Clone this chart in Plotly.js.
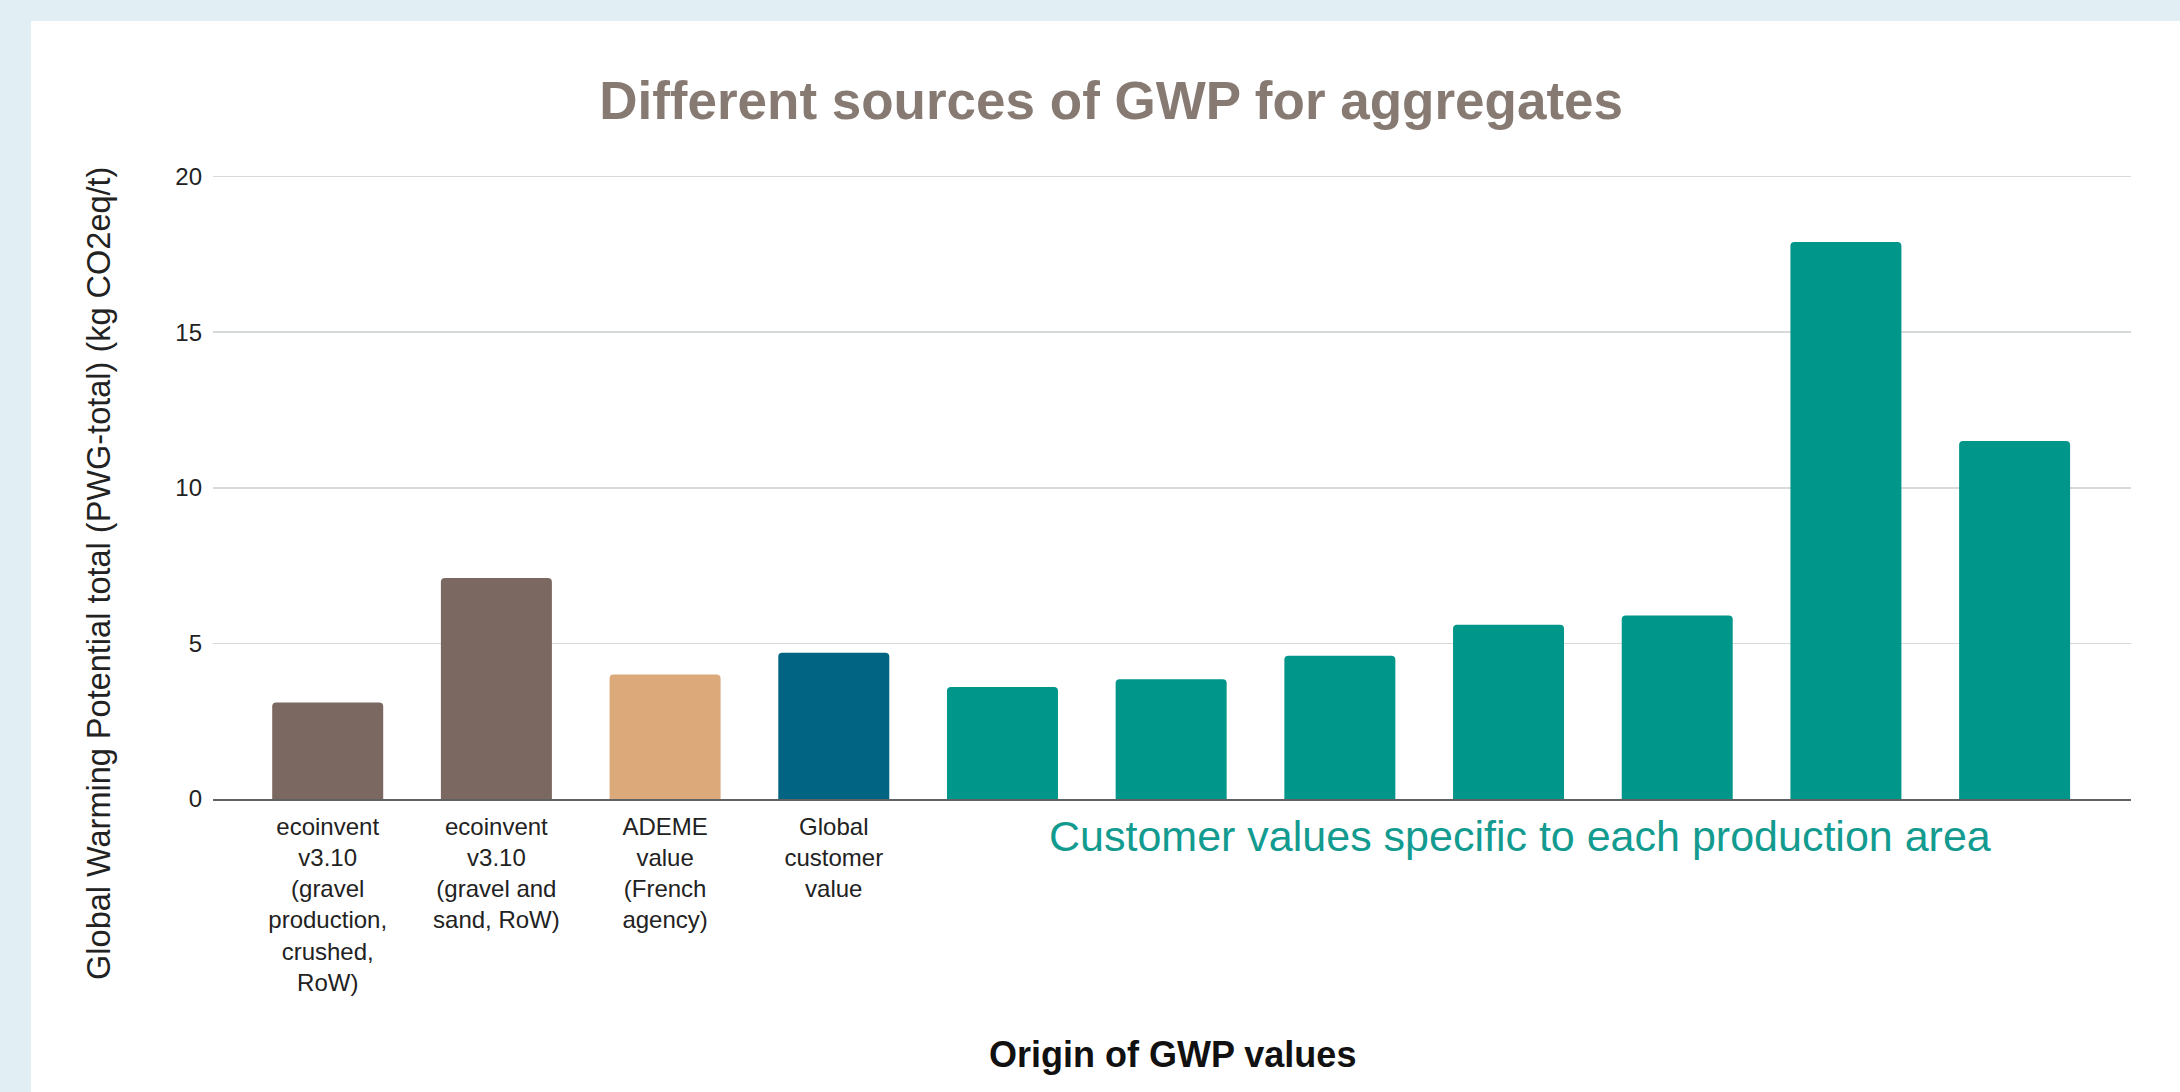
<!DOCTYPE html>
<html>
<head>
<meta charset="utf-8">
<script src="https://cdn.plot.ly/plotly-3.0.1.min.js"></script>
<style>
  html, body { margin: 0; padding: 0; background: #e1eef4; width: 2180px; height: 1092px; overflow: hidden; }
  #chart { position: absolute; left: 31px; top: 21px; width: 2149px; height: 1071px; background: #ffffff; }
</style>
</head>
<body>
<div id="chart"></div>
<script>
// ---- data ----
const categoryLabels = [
  'ecoinvent<br>v3.10<br>(gravel<br>production,<br>crushed,<br>RoW)',
  'ecoinvent<br>v3.10<br>(gravel and<br>sand, RoW)',
  'ADEME<br>value<br>(French<br>agency)',
  'Global<br>customer<br>value',
  '', '', '', '', '', '', ''
];
const gwpValues = [3.1, 7.1, 4.0, 4.7, 3.6, 3.85, 4.6, 5.6, 5.9, 17.9, 11.5];
const sourceGroups = ['ecoinvent', 'ecoinvent', 'ADEME', 'Global customer',
  'Customer area', 'Customer area', 'Customer area', 'Customer area',
  'Customer area', 'Customer area', 'Customer area'];
const groupColors = {
  'ecoinvent': '#7b6961',
  'ADEME': '#dca97b',
  'Global customer': '#006482',
  'Customer area': '#00978a'
};
const yTickValues = [0, 5, 10, 15, 20];
const chartTitle = 'Different sources of GWP for aggregates';
const xTitle = 'Origin of GWP values';
const yTitle = 'Global Warming Potential total (PWG-total) (kg CO2eq/t)';
const areaNote = 'Customer values specific to each production area';

const positions = categoryLabels.map((_, i) => i);
const FONT = '"Liberation Sans", Arial, Helvetica, sans-serif';

const trace = {
  type: 'bar',
  x: positions,
  y: gwpValues,
  marker: { color: sourceGroups.map(g => groupColors[g]), cornerradius: 4, line: { width: 0 } },
  hoverinfo: 'y'
};

const layout = {
  width: 2149,
  height: 1071,
  paper_bgcolor: '#ffffff',
  plot_bgcolor: '#ffffff',
  margin: { l: 182, r: 49, t: 154, b: 293, pad: 0 },
  showlegend: false,
  bargap: 0.342,
  font: { family: FONT, color: '#222222' },
  title: {
    text: '<b>' + chartTitle + '</b>',
    font: { family: FONT, size: 53, color: '#877a72' },
    xref: 'container', x: 0.5026, xanchor: 'center',
    yref: 'container', y: 0.926, yanchor: 'middle'
  },
  xaxis: {
    type: 'linear',
    range: [-0.68, 10.69],
    tickmode: 'array',
    tickvals: positions,
    ticktext: categoryLabels,
    tickfont: { family: FONT, size: 24, color: '#222222' },
    ticks: '',
    showgrid: false,
    zeroline: false,
    showline: true,
    linecolor: '#5f6263',
    linewidth: 2,
    ticklabelstandoff: 5,
    fixedrange: true
  },
  yaxis: {
    range: [0, 20.05],
    tickmode: 'array',
    tickvals: yTickValues,
    tickfont: { family: FONT, size: 24, color: '#222222' },
    ticks: '',
    showgrid: true,
    gridcolor: '#d7dadb',
    gridwidth: 1.5,
    zeroline: false,
    showline: false,
    ticklabelstandoff: 10,
    fixedrange: true
  },
  annotations: [
    {
      text: yTitle, textangle: -90,
      xref: 'paper', yref: 'paper', x: -0.0592, y: 0.3614,
      xanchor: 'center', yanchor: 'middle', showarrow: false,
      font: { family: FONT, size: 32.5, color: '#222222' }
    },
    {
      text: '<b>' + xTitle + '</b>',
      xref: 'paper', yref: 'paper', x: 0.5003, y: -0.4087,
      xanchor: 'center', yanchor: 'middle', showarrow: false,
      font: { family: FONT, size: 36, color: '#111111' }
    },
    {
      text: areaNote,
      xref: 'paper', yref: 'paper', x: 0.6815, y: -0.0586,
      xanchor: 'center', yanchor: 'middle', showarrow: false,
      font: { family: FONT, size: 43, color: '#139b90' }
    }
  ]
};

Plotly.newPlot('chart', [trace], layout, { displayModeBar: false, staticPlot: true });
</script>
</body>
</html>
